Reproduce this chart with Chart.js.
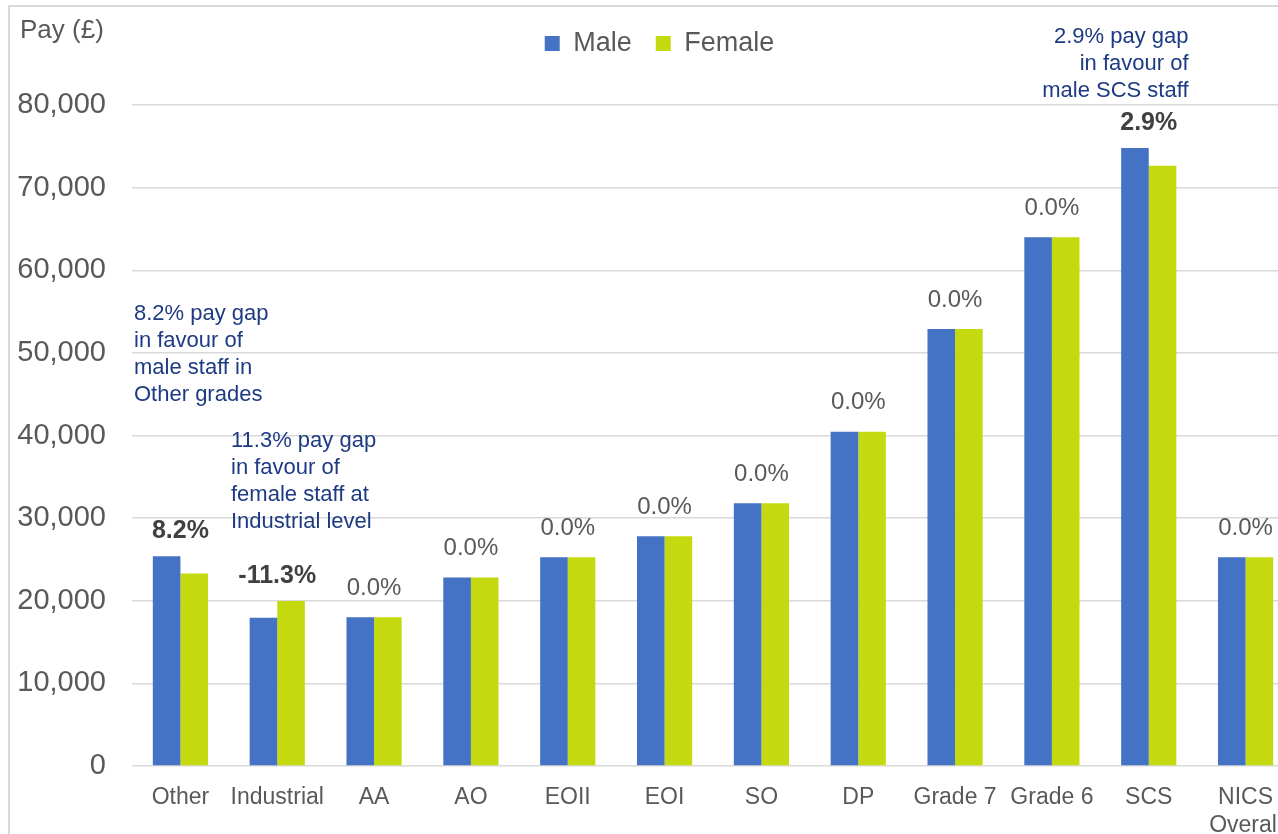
<!DOCTYPE html>
<html>
<head>
<meta charset="utf-8">
<title>NICS pay by grade and gender</title>
<script src="https://cdn.jsdelivr.net/npm/chart.js@4"></script>
<style>
  html, body { margin: 0; padding: 0; background: #fff; overflow: hidden; }
  #wrap { width: 1354px; height: 834px; }
</style>
</head>
<body>
<div id="wrap"><canvas id="chart" width="1354" height="834"></canvas></div>
<script>
// grades along the bottom
const grades = ['Other', 'Industrial', 'AA', 'AO', 'EOII', 'EOI', 'SO', 'DP', 'Grade 7', 'Grade 6', 'SCS', ['NICS', 'Overall']];

// median pay (£)
const malePay   = [25400, 17950, 18000, 22800, 25250, 27800, 31800, 40450, 52900, 64000, 74800, 25250];
const femalePay = [23300, 19980, 18000, 22800, 25250, 27800, 31800, 40450, 52900, 64000, 72650, 25250];

// pay gap labels over each pair, and which ones are highlighted
const gapLabels = ['8.2%', '-11.3%', '0.0%', '0.0%', '0.0%', '0.0%', '0.0%', '0.0%', '0.0%', '0.0%', '2.9%', '0.0%'];
const gapBold   = [true, true, false, false, false, false, false, false, false, false, true, false];

const yTicks = [0, 10000, 20000, 30000, 40000, 50000, 60000, 70000, 80000];

const noteOther = ['8.2% pay gap', 'in favour of', 'male staff in', 'Other grades'];
const noteIndustrial = ['11.3% pay gap', 'in favour of', 'female staff at', 'Industrial level'];
const noteSCS = ['2.9% pay gap', 'in favour of', 'male SCS staff'];

const FONT = "'Liberation Sans', Arial, sans-serif";
const GREY = '#595959';
const NAVY = '#1d3a82';

const extras = {
  id: 'extras',
  afterLayout(chart) {
    // legend sits a little right of the canvas centre
    chart.legend.left += 25;
  },
  beforeDraw(chart) {
    const ctx = chart.ctx;
    ctx.save();
    ctx.strokeStyle = '#d9d9d9';
    ctx.lineWidth = 2;
    ctx.strokeRect(9, 6, chart.width + 20, chart.height + 20);
    ctx.restore();
  },
  afterDraw(chart) {
    const ctx = chart.ctx;
    const y = chart.scales.y;
    const m = chart.getDatasetMeta(0), f = chart.getDatasetMeta(1);
    ctx.save();

    ctx.fillStyle = GREY;
    ctx.font = '26px ' + FONT;
    ctx.textAlign = 'left';
    ctx.textBaseline = 'middle';
    ctx.fillText('Pay (£)', 20, 31);

    // gap labels above bars
    ctx.textAlign = 'center';
    gapLabels.forEach((t, i) => {
      const x = (m.data[i].x + f.data[i].x) / 2;
      const top = Math.min(m.data[i].y, f.data[i].y);
      ctx.font = (gapBold[i] ? 'bold 25px ' : '24px ') + FONT;
      ctx.fillStyle = gapBold[i] ? '#404040' : GREY;
      ctx.fillText(t, x, top - (gapBold[i] ? 25 : 29));
    });

    // notes
    ctx.fillStyle = NAVY;
    ctx.font = '22px ' + FONT;
    const lh = 27;
    ctx.textAlign = 'left';
    noteOther.forEach((t, k) => ctx.fillText(t, chart.chartArea.left + 2, y.getPixelForValue(54700) + k * lh));
    noteIndustrial.forEach((t, k) => ctx.fillText(t, chart.chartArea.left + 99, y.getPixelForValue(39300) + k * lh));
    ctx.textAlign = 'right';
    noteSCS.forEach((t, k) => ctx.fillText(t, f.data[10].x + 26, 37 + k * lh));
    ctx.restore();
  }
};

new Chart(document.getElementById('chart'), {
  type: 'bar',
  data: {
    labels: grades,
    datasets: [
      { label: 'Male', data: malePay, backgroundColor: '#4472c4' },
      { label: 'Female', data: femalePay, backgroundColor: '#c5da0e' }
    ]
  },
  options: {
    responsive: false,
    animation: false,
    layout: { padding: { top: 6, right: 60, left: 0, bottom: 0 } },
    datasets: { bar: { categoryPercentage: 0.57, barPercentage: 1.0 } },
    plugins: {
      legend: {
        position: 'top',
        labels: {
          boxWidth: 15, boxHeight: 15, padding: 24,
          color: GREY, font: { family: FONT, size: 27 }
        }
      },
      // empty spacer between legend and plot
      title: { display: true, text: '', weight: 500, font: { size: 10, lineHeight: 1 }, padding: { top: 0, bottom: 28 } },
      tooltip: { enabled: false }
    },
    scales: {
      x: {
        grid: { display: false },
        border: { display: false },
        ticks: { color: GREY, font: { family: FONT, size: 23 }, padding: 10, maxRotation: 0, autoSkip: false },
        afterFit(s) { s.height = 68; }
      },
      y: {
        min: 0, max: 80000,
        afterBuildTicks(s) { s.ticks = yTicks.map(v => ({ value: v })); },
        grid: { color: '#d9d9d9', lineWidth: 1.5, drawTicks: false },
        border: { display: false },
        ticks: {
          color: GREY, font: { family: FONT, size: 29 }, padding: 26,
          callback: v => v.toLocaleString('en-GB')
        },
        afterFit(s) { s.width = 132; }
      }
    }
  },
  plugins: [extras]
});
</script>
</body>
</html>
